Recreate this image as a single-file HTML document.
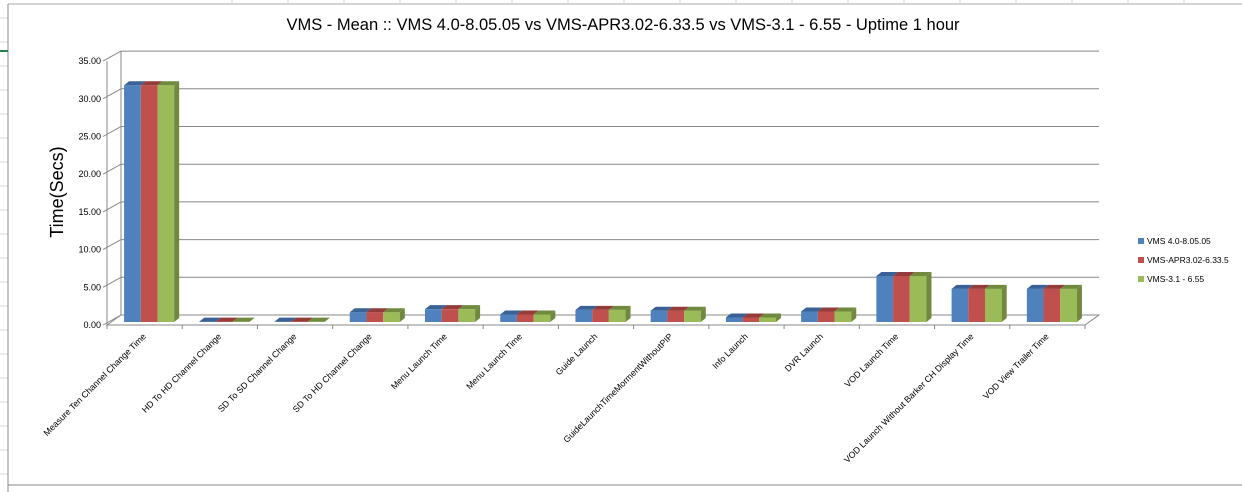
<!DOCTYPE html>
<html><head><meta charset="utf-8"><style>
body{margin:0;background:#fff;width:1242px;height:492px;overflow:hidden;font-family:"Liberation Sans",sans-serif}
svg{display:block}
</style></head><body>
<svg id="c" width="1242" height="492" xmlns="http://www.w3.org/2000/svg">
<g id="bg"></g>
<text x="623" y="30" font-size="16.5" text-anchor="middle" fill="#000">VMS - Mean :: VMS 4.0-8.05.05 vs VMS-APR3.02-6.33.5 vs VMS-3.1 - 6.55 - Uptime 1 hour</text>
<text transform="translate(63,192) rotate(-90)" font-size="18" text-anchor="middle">Time(Secs)</text>
<g id="grid"></g>
<g id="bars"></g>
<g id="xl"></g>
<g id="leg"></g>
</svg>
<script>
const categories=["Measure Ten Channel Change Time","HD To HD Channel Change","SD To SD Channel Change","SD To HD Channel Change","Menu Launch Time","Menu Launch Time","Guide Launch","GuideLaunchTimeMormentWithoutPIP","Info Launch","DVR Launch","VOD Launch Time","VOD Launch Without Barker CH Display Time","VOD View Trailer Time"];
const seriesNames=["VMS 4.0-8.05.05","VMS-APR3.02-6.33.5","VMS-3.1 - 6.55"];
const s1=[31.4,0.05,0.05,1.3,1.7,1.0,1.6,1.5,0.6,1.4,6.1,4.4,4.4];
const s2=[31.4,0.05,0.05,1.3,1.7,1.0,1.6,1.5,0.6,1.4,6.1,4.4,4.4];
const s3=[31.4,0.05,0.05,1.3,1.7,1.0,1.6,1.5,0.6,1.4,6.1,4.4,4.4];
const yTicks=[0,5,10,15,20,25,30,35];
const NS="http://www.w3.org/2000/svg";
function mk(p,t,a){const e=document.createElementNS(NS,t);for(const k in a)e.setAttribute(k,a[k]);p.appendChild(e);return e;}
const x0=107,x1=1085,y0=325,ppu=7.54,dx=14,dy=-10,n=categories.length,cw=(x1-x0)/n;
const yF=v=>y0-v*ppu;
const xC=i=>x0+cw*(i+0.5);
const bg=document.getElementById('bg');
for(let y=18;y<492;y+=24){const l=mk(bg,'line',{x1:0,y1:y,x2:8,y2:y,stroke:'#d4d4d4'});}
{const l=mk(bg,'line',{x1:8,y1:4,x2:8,y2:492,stroke:'#888'});}
{const l=mk(bg,'line',{x1:8,y1:4,x2:1242,y2:4,stroke:'#aaa'});}
{const l=mk(bg,'line',{x1:8,y1:485,x2:1242,y2:485,stroke:'#888'});}
[232,288,344,400,456,512,568,624,680,736,792,848,904,960,1016,1072,1128,1184].forEach(x=>{const l=mk(bg,'line',{x1:x,y1:0,x2:x,y2:4,stroke:'#d4d4d4'});});
mk(bg,'line',{x1:0,y1:51,x2:8,y2:51,stroke:'#2e7d4f','stroke-width':2});
const g=document.getElementById('grid');
{const p=mk(g,'path',{d:`M${x0+dx},${yF(35)+dy}V${y0+dy}H${x1+dx}L${x1},${y0}H${x0}L${x0+dx},${y0+dy}`,fill:'none',stroke:'#888','stroke-width':1});}
{const l=mk(g,'line',{x1:x0,y1:yF(35),x2:x0,y2:y0,stroke:'#888'});}
yTicks.forEach(v=>{
 const y=yF(v);
 if(v>0){const l=mk(g,'line',{x1:x0+dx,y1:y+dy,x2:x1+dx,y2:y+dy,stroke:'#888'});}
 const d=mk(g,'line',{x1:x0-4,y1:y,x2:x0+dx,y2:y+dy,stroke:'#888'});
 const t=mk(g,'text',{x:x0-6,y:y+3,'font-size':9,'text-anchor':'end',fill:'#000'});t.textContent=v.toFixed(2);
 
});
for(let i=0;i<=n;i++){const x=x0+cw*i;const l=mk(g,'line',{x1:x,y1:y0,x2:x,y2:y0+4,stroke:'#888'});}
const cols=[["#4f81bd","#3a6296","#385d8a"],["#c0504d","#933c3a","#8c3a38"],["#9bbb59","#6f8a3c","#71893f"]];
const series=[s1,s2,s3];
const bgp=document.getElementById('bars');
const bw=16.7,bdx=5,bdy=-4,by=322;
for(let i=0;i<n;i++){
 const start=xC(i)-bw*1.5+4.5;
 series.forEach((s,k)=>{
  const x=start+bw*k,top=by-s[i]*ppu;
  const grp=mk(bgp,'g',{});
  
  
  mk(grp,'rect',{x:x,y:top,width:bw,height:by-top,fill:cols[k][0]});
  mk(grp,'path',{d:`M${x},${top}l${bdx},${bdy}h${bw}l${-bdx},${-bdy}Z`,fill:cols[k][1]});
  if(k==2)mk(grp,'path',{d:`M${x+bw},${top}l${bdx},${bdy}V${by+bdy}l${-bdx},${-bdy}Z`,fill:cols[k][2]});
 });
}
const xl=document.getElementById('xl');
categories.forEach((c,i)=>{
 const x=xC(i)+2,y=337;
 const t=mk(xl,'text',{transform:`translate(${x},${y}) rotate(-45)`,'font-size':8.8,'text-anchor':'end',fill:'#000'});
 t.textContent=c;
 
 
});
const lg=document.getElementById('leg');
seriesNames.forEach((s,k)=>{
 const y=241+k*19;
 const r=mk(lg,'rect',{x:1138,y:y-3,width:6,height:6,fill:cols[k][0]});
 
 const t=mk(lg,'text',{x:1147,y:y+3,'font-size':8.5,fill:'#000'});t.textContent=s;
 
});
</script>
</body></html>
